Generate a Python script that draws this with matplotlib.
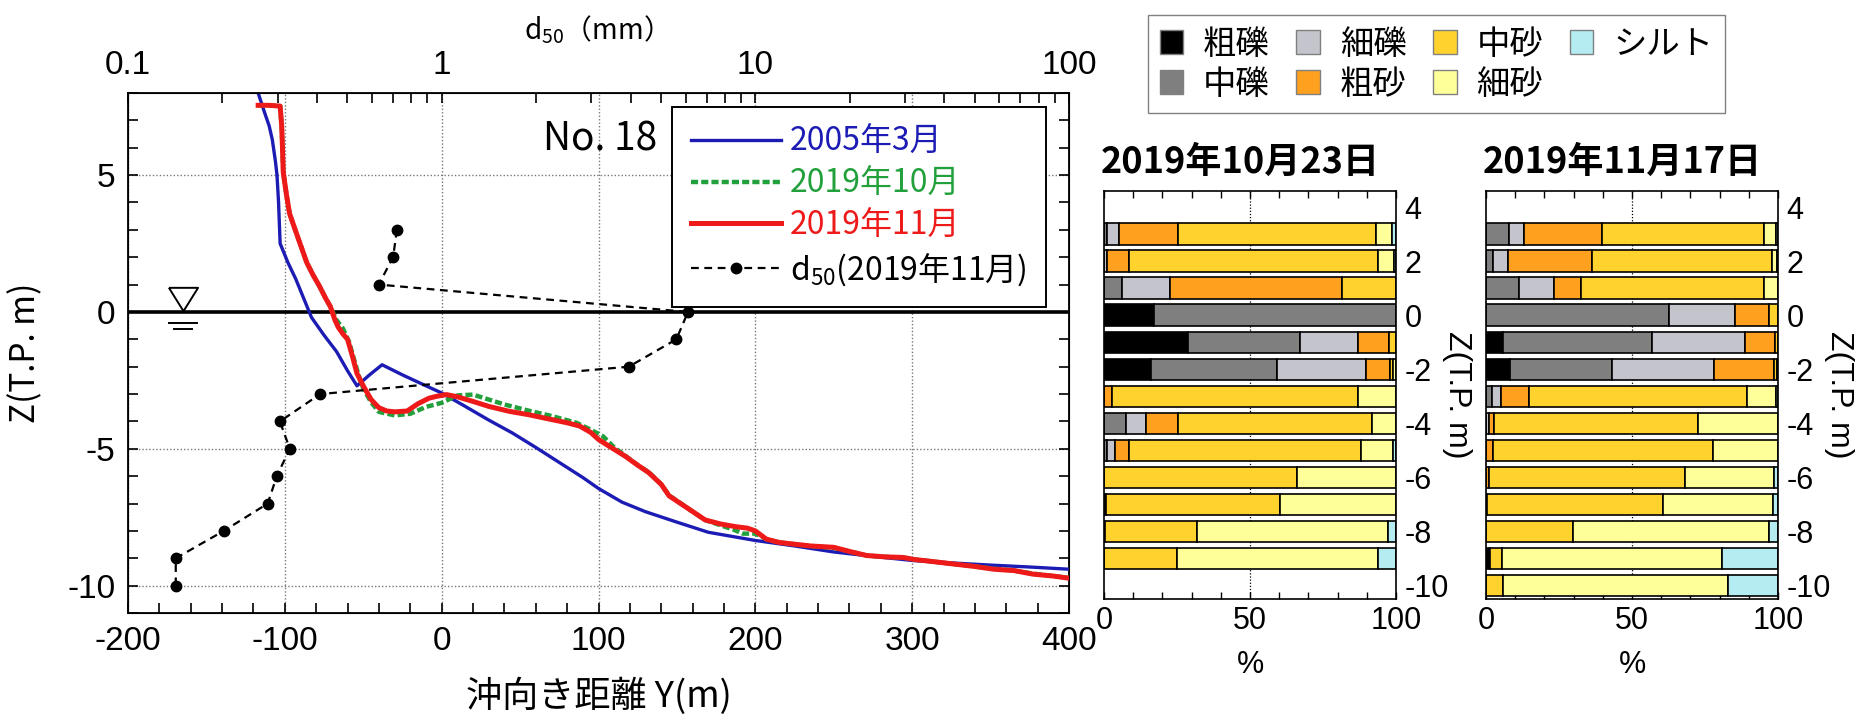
import numpy as np
import matplotlib
matplotlib.use('Agg')
import matplotlib.pyplot as plt
from matplotlib.patches import Patch
from matplotlib.lines import Line2D
from matplotlib.ticker import MultipleLocator, FixedLocator, LogLocator, NullFormatter

######################################## fonts
JP = 'Noto Sans CJK JP'
ARIAL = 'Liberation Sans'
plt.rcParams['font.family'] = [JP, 'DejaVu Sans']
plt.rcParams['mathtext.default'] = 'regular'
plt.rcParams['axes.unicode_minus'] = False

######################################## profile data (Y m, Z T.P. m)
prof_2005 = [(-117, 8.0), (-113, 7.3), (-110, 6.8), (-108, 6.3), (-106, 5.5), (-105, 5.0),
             (-104, 4.0), (-103, 2.5), (-98, 1.8), (-93, 1.2), (-88, 0.5), (-83, -0.2),
             (-75, -0.85), (-67, -1.45), (-60, -2.15), (-54, -2.7), (-46, -2.3), (-38, -1.93),
             (-25, -2.3), (-10, -2.7), (0, -2.96), (15, -3.45), (30, -3.95), (45, -4.42),
             (60, -4.95), (75, -5.5), (90, -6.05), (100, -6.45), (115, -6.95), (130, -7.3),
             (150, -7.68), (170, -8.05), (185, -8.2), (200, -8.35), (225, -8.55), (250, -8.77),
             (275, -8.93), (300, -9.08), (325, -9.17), (350, -9.25), (375, -9.32), (400, -9.4)]

prof_1910 = [(-117, 7.55), (-110, 7.55), (-103, 7.52), (-102, 6.8), (-101.5, 6.0), (-101, 5.1),
             (-99, 4.3), (-97, 3.6), (-94, 3.1), (-90, 2.45), (-86, 1.8), (-82, 1.35),
             (-78, 0.95), (-74, 0.5), (-71, 0.2), (-67, -0.3), (-63, -0.6), (-59, -1.1),
             (-56, -1.7), (-53, -2.3), (-50, -2.8), (-45, -3.3), (-40, -3.65), (-30, -3.78),
             (-20, -3.72), (-10, -3.47), (0, -3.32), (10, -3.05), (20, -3.02), (30, -3.2),
             (40, -3.38), (55, -3.6), (70, -3.8), (86, -4.05), (95, -4.3), (103, -4.55),
             (110, -4.95), (117, -5.25), (125, -5.6), (132, -5.85), (140, -6.3), (145, -6.7),
             (155, -7.1), (168, -7.6), (178, -7.8), (186, -7.95), (192, -8.1), (200, -8.1),
             (207, -8.3), (215, -8.42), (224, -8.48), (235, -8.55), (250, -8.62), (260, -8.75),
             (271, -8.9), (283, -8.95), (294, -8.97), (302, -9.05), (310, -9.1), (325, -9.2),
             (340, -9.3), (352, -9.38), (365, -9.45), (377, -9.56), (390, -9.65), (400, -9.72)]

prof_1911 = [(-117, 7.55), (-110, 7.55), (-103, 7.52), (-102, 6.8), (-101.5, 6.0), (-101, 5.1),
             (-99, 4.3), (-97, 3.6), (-94, 3.1), (-90, 2.45), (-86, 1.8), (-82, 1.35),
             (-78, 0.95), (-74, 0.5), (-71, 0.2), (-68, -0.3), (-66, -0.55), (-63, -0.8),
             (-60, -1.0), (-57, -1.6), (-54, -2.25), (-50, -2.7), (-45, -3.2), (-40, -3.5),
             (-35, -3.62), (-30, -3.65), (-22, -3.62), (-15, -3.35), (-8, -3.15), (-3, -3.08),
             (3, -3.02), (10, -3.1), (20, -3.27), (30, -3.45), (43, -3.63), (55, -3.75),
             (70, -3.93), (80, -4.05), (88, -4.17), (95, -4.4), (100, -4.66), (108, -4.95),
             (117, -5.27), (125, -5.6), (132, -5.87), (140, -6.3), (145, -6.72), (155, -7.1),
             (168, -7.6), (178, -7.75), (188, -7.85), (195, -7.9), (200, -8.0), (207, -8.3),
             (215, -8.42), (224, -8.48), (235, -8.55), (250, -8.6), (260, -8.75), (271, -8.9),
             (283, -8.95), (294, -8.97), (302, -9.05), (310, -9.1), (325, -9.2), (340, -9.3),
             (352, -9.4), (365, -9.45), (377, -9.58), (390, -9.65), (400, -9.73)]

# d50 (2019/11) vs elevation
d50_z = [3, 2, 1, 0, -1, -2, -3, -4, -5, -6, -7, -8, -9, -10]
d50_mm = [0.72, 0.70, 0.63, 6.1, 5.6, 3.95, 0.41, 0.305, 0.328, 0.298, 0.279, 0.202, 0.142, 0.142]

######################################## grain composition (%)
classes = ['粗礫', '中礫', '細礫', '粗砂', '中砂', '細砂', 'シルト']
class_colors = ['#000000', '#7f7f7f', '#c4c4cc', '#ffa01e', '#ffd22e', '#ffff99', '#b4ecf2']

oct_depth = [3, 2, 1, 0, -1, -2, -3, -4, -5, -6, -7, -8, -9]
oct_cg = [0, 0, 0, 17.1, 28.9, 16.0, 0, 0, 0, 0, 0, 0, 0]
oct_mg = [1.0, 0, 6.0, 82.9, 38.2, 43.2, 0, 7.4, 0.9, 0, 0, 0, 0]
oct_fg = [4.2, 1.0, 16.6, 0, 20.0, 30.6, 0, 7.0, 2.9, 0, 0, 0, 0]
oct_cs = [20.2, 7.4, 58.8, 0, 10.6, 8.2, 2.9, 11.1, 4.9, 0, 0.8, 0.5, 0]
oct_ms = [67.7, 85.3, 18.6, 0, 2.3, 1.0, 84.2, 66.2, 79.3, 66.0, 59.5, 31.2, 24.9]
oct_fs = [5.6, 5.5, 0, 0, 0, 1.0, 12.9, 8.3, 11.1, 34.0, 39.7, 65.7, 68.8]
oct_si = [1.3, 0.8, 0, 0, 0, 0, 0, 0, 0.9, 0, 0, 2.6, 6.3]

nov_depth = [3, 2, 1, 0, -1, -2, -3, -4, -5, -6, -7, -8, -9, -10]
nov_cg = [0, 0, 0, 0, 5.7, 8.2, 0, 0, 0, 0, 0, 0, 1.4, 0]
nov_mg = [8.0, 2.3, 11.4, 62.6, 51.2, 34.8, 1.9, 0, 0, 0, 0, 0, 0, 0]
nov_fg = [5.1, 5.1, 11.9, 22.6, 31.7, 35.1, 3.4, 1.0, 0, 0, 0, 0, 0, 0]
nov_cs = [26.7, 29.0, 9.1, 11.6, 10.3, 20.5, 9.5, 1.7, 2.5, 1.0, 0.5, 0, 0, 0]
nov_ms = [55.3, 61.7, 62.8, 3.2, 1.1, 1.0, 74.6, 69.9, 75.4, 67.3, 60.2, 29.9, 4.0, 5.9]
nov_fs = [4.1, 1.7, 4.8, 0, 0, 0.4, 10.0, 27.4, 22.1, 30.4, 37.6, 67.0, 75.4, 77.0]
nov_si = [0.8, 0.2, 0, 0, 0, 0, 0.6, 0, 0, 1.3, 1.7, 3.1, 19.2, 17.1]

######################################## figure
W, H = 1859, 715
fig = plt.figure(figsize=(W / 100, H / 100), dpi=100)
fig.patch.set_facecolor('white')


def frac(x0, y0, x1, y1):
    # pixel box (top-left origin) -> figure fraction
    return [x0 / W, 1 - y1 / H, (x1 - x0) / W, (y1 - y0) / H]


######################################## profile chart
ax = fig.add_axes(frac(128, 93, 1069, 613))
ax.set_xlim(-200, 400)
ax.set_ylim(-11, 8)
ax.xaxis.set_major_locator(MultipleLocator(100))
ax.xaxis.set_minor_locator(MultipleLocator(20))
ax.yaxis.set_major_locator(FixedLocator([-10, -5, 0, 5]))
ax.yaxis.set_minor_locator(MultipleLocator(1))
ax.tick_params(which='both', direction='in', top=False, right=True, width=1.2, length=7)
ax.tick_params(axis='x', labelsize=24, pad=9)
ax.tick_params(axis='y', labelsize=24, pad=9)
for lab in ax.get_xticklabels() + ax.get_yticklabels():
    lab.set_family(ARIAL)
ax.grid(which='major', ls=(0, (1, 1.5)), color='#777777', lw=1)
for sp in ax.spines.values():
    sp.set_linewidth(1.3)

ax.axhline(0, color='k', lw=2.6, zorder=2)

for prof, col, ls, lw in [(prof_2005, '#1c1cb4', '-', 2.4),
                          (prof_1910, '#22a03c', (0, (1.6, 0.7)), 3.2),
                          (prof_1911, '#ee1a1a', '-', 3.6)]:
    arr = np.array(prof)
    ax.plot(arr[:, 0], arr[:, 1], color=col, ls=ls, lw=lw, zorder=3)

# water level mark
WL_Y, WL_Z = -165, 0.48
tri = [(-1, 0.8), (1, 0.8), (0, -0.8), (-1, 0.8)]
ax.plot([WL_Y], [WL_Z], marker=tri, ms=21, mfc='white', mec='k', mew=1.4, ls='none', zorder=4)
ax.plot([WL_Y - 9, WL_Y + 9], [-0.39, -0.39], color='k', lw=1.4, zorder=4)
ax.plot([WL_Y - 5.5, WL_Y + 5.5], [-0.63, -0.63], color='k', lw=1.4, zorder=4)

ax.text(0.502, 0.91, 'No. 18', transform=ax.transAxes, fontsize=28,
        ha='center', va='center')

ax.set_xlabel('沖向き距離 Y(m)', fontsize=26)
ax.xaxis.set_label_coords(0.5, -0.125)
ax.set_ylabel('Z(T.P. m)', fontsize=24)
ax.yaxis.set_label_coords(-0.09, 0.5)

# d50 on top log axis
ax2 = ax.twiny()
ax2.set_xscale('log')
ax2.set_xlim(0.1, 100)
ax2.xaxis.set_major_locator(FixedLocator([0.1, 1, 10, 100]))
ax2.set_xticklabels(['0.1', '1', '10', '100'], family=ARIAL)
ax2.xaxis.set_minor_locator(LogLocator(base=10, subs=np.arange(2, 10)))
ax2.xaxis.set_minor_formatter(NullFormatter())
ax2.tick_params(which='both', direction='in', width=1.2, length=7, labelsize=24, pad=9)
ax2.plot(d50_mm, d50_z, color='k', ls=(0, (3.5, 2.5)), lw=1.6, marker='o', ms=7.5, zorder=5)
fig.text(589 / W, 1 - 30 / H, 'd$_{50}$（mm）', fontsize=20, ha='center', va='center')

handles = [Line2D([], [], color='#1c1cb4', lw=2.4),
           Line2D([], [], color='#22a03c', lw=3.2, ls=(0, (1.6, 0.7))),
           Line2D([], [], color='#ee1a1a', lw=3.6),
           Line2D([], [], color='k', lw=1.6, ls=(0, (3.5, 2.5)), marker='o', ms=7.5)]
labels = ['2005年3月', '2019年10月', '2019年11月', 'd$_{50}$(2019年11月)']
leg = ax2.legend(handles, labels, loc='upper left', bbox_to_anchor=(672 / W, 1 - 107 / H),
                 bbox_transform=fig.transFigure, borderaxespad=0, fontsize=23,
                 frameon=True, fancybox=False, edgecolor='k', framealpha=1,
                 handlelength=2.8, handletextpad=0.28, labelspacing=0.3,
                 borderpad=0.6, numpoints=1,
                 labelcolor=['#1c1cb4', '#22a03c', '#ee1a1a', 'k'])
leg.get_frame().set_linewidth(1.4)

######################################## grain size bars
panels = [
    (frac(1104, 191, 1396, 599), '2019年10月23日', oct_depth,
     [oct_cg, oct_mg, oct_fg, oct_cs, oct_ms, oct_fs, oct_si]),
    (frac(1486, 191, 1778, 599), '2019年11月17日', nov_depth,
     [nov_cg, nov_mg, nov_fg, nov_cs, nov_ms, nov_fs, nov_si]),
]

for pos, title, depth, parts in panels:
    bx = fig.add_axes(pos)
    depth = np.array(depth, dtype=float)
    left = np.zeros(len(depth))
    for vals, col in zip(parts, class_colors):
        w = np.array(vals, dtype=float)
        m = w > 0
        bx.barh(depth[m], w[m], left=left[m], height=0.8, color=col,
                edgecolor='k', linewidth=1.2, zorder=2)
        left += w
    bx.set_xlim(0, 100)
    bx.set_ylim(-10.5, 4.6)
    bx.axvline(50, color='k', ls=(0, (1, 1.5)), lw=0.9, zorder=1)
    bx.xaxis.set_major_locator(FixedLocator([0, 50, 100]))
    bx.xaxis.set_minor_locator(MultipleLocator(10))
    bx.tick_params(axis='x', which='both', direction='in', top=True, length=5,
                   width=1, labelsize=22, pad=5)
    bx.yaxis.tick_right()
    bx.yaxis.set_major_locator(FixedLocator([-10, -8, -6, -4, -2, 0, 2, 4]))
    bx.tick_params(axis='y', length=0, labelsize=22, pad=6)
    for lab in bx.get_xticklabels() + bx.get_yticklabels():
        lab.set_family(ARIAL)
    for sp in bx.spines.values():
        sp.set_linewidth(1.2)
    bx.set_xlabel('%', fontsize=22, family=ARIAL)
    bx.xaxis.set_label_coords(0.5, -0.125)
    bx.text(1.21, 0.5, 'Z(T.P. m)', transform=bx.transAxes, rotation=-90,
            fontsize=23, family=ARIAL, ha='center', va='center')
    bx.text(-0.01, 1.069, title, transform=bx.transAxes, fontsize=26,
            fontweight='bold', ha='left', va='center')

leg_handles = [Patch(facecolor=c, edgecolor='#808080', lw=1) for c in class_colors]
fig.legend(leg_handles, classes, ncol=4, loc='upper left',
           bbox_to_anchor=(1148 / W, 1 - 15 / H), borderaxespad=0, fontsize=24,
           frameon=True, fancybox=False, edgecolor='#808080', framealpha=1,
           handlelength=0.7, handleheight=0.7, handletextpad=0.6,
           columnspacing=0.8, labelspacing=0.15, borderpad=0.35)

fig.savefig('out.png', dpi=100)
